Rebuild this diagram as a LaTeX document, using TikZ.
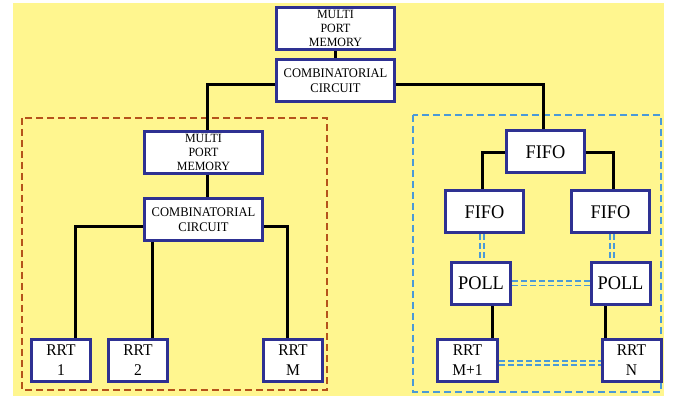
\documentclass[tikz,border=0pt]{standalone}
\usepackage{fontspec}
\setmainfont{Liberation Serif}[FakeStretch=0.95]
\definecolor{bgyel}{RGB}{255,246,143}
\definecolor{navy}{RGB}{46,49,146}
\definecolor{brownd}{RGB}{181,83,27}
\definecolor{blued}{RGB}{74,154,216}
\pgfdeclarelayer{bg}
\pgfsetlayers{bg,main}
\begin{document}
\begin{tikzpicture}[x=1pt,y=-1pt,
  box/.style={draw=navy,line width=3pt,fill=white,align=center,inner sep=1pt},
  bigbox/.style={box,minimum width=118pt,minimum height=42pt},
  smallbox/.style={box,minimum width=59pt,minimum height=42pt},
  fifobox/.style={box,minimum width=78pt,minimum height=42pt},
  memtext/.style={font=\fontsize{12.6}{14}\selectfont},
  combtext/.style={font=\fontsize{13.2}{15}\selectfont},
  rrttext/.style={font=\fontsize{16.4}{20}\selectfont},
  bigtext/.style={font=\fontsize{19.3}{22}\selectfont},
  wire/.style={line width=3pt,black},
  link/.style={draw=blued,line width=1.8pt,double=bgyel,double distance=2.4pt,dash pattern=on 6pt off 3pt},
  brownframe/.style={draw=brownd,line width=2pt,dash pattern=on 7pt off 4pt},
  blueframe/.style={draw=blued,line width=2pt,dash pattern=on 7pt off 4pt}]
\useasboundingbox (0,0) rectangle (673,398);
% nodes
\node[bigbox,memtext] (mpm1) at (335.5,28.5) {MULTI\\PORT\\MEMORY};
\node[bigbox,combtext] (comb1) at (335.5,80.5) {COMBINATORIAL\\CIRCUIT};
\node[bigbox,memtext] (mpm2) at (203.5,152.5) {MULTI\\PORT\\MEMORY};
\node[bigbox,combtext] (comb2) at (203.5,219.5) {COMBINATORIAL\\CIRCUIT};
\node[smallbox,rrttext] (rrt1) at (61,360.5) {RRT\\1};
\node[smallbox,rrttext] (rrt2) at (138,360.5) {RRT\\2};
\node[smallbox,rrttext] (rrtm) at (293,360.5) {RRT\\M};
\node[fifobox,bigtext] (fifo0) at (545.5,152) {FIFO};
\node[fifobox,bigtext] (fifol) at (484.5,212) {FIFO};
\node[fifobox,bigtext] (fifor) at (610.5,212) {FIFO};
\node[smallbox,bigtext] (polll) at (481,283.5) {POLL};
\node[smallbox,bigtext] (pollr) at (620.5,283.5) {POLL};
\node[smallbox,rrttext,minimum width=60pt] (rrtm1) at (467.5,360.5) {RRT\\M+1};
\node[smallbox,rrttext] (rrtn) at (631.5,360.5) {RRT\\N};
% helper coordinates
\coordinate (j1) at (207,85);
\coordinate (j2) at (543,85);
\coordinate (j3) at (75,227);
\coordinate (j4) at (287,227);
\coordinate (j5) at (152,0);
\coordinate (j6) at (482,153);
\coordinate (j7) at (613,153);
\coordinate (j8) at (492,0);
\coordinate (j9) at (605,0);
\coordinate (k1) at (482,0);
\coordinate (k2) at (612,0);
\coordinate (k3) at (0,363);
\begin{pgfonlayer}{bg}
\fill[bgyel] (13,3) rectangle (664,396);
\draw[brownframe] (22,118) rectangle (327,390);
\draw[blueframe] (413,115) rectangle (661,392);
% black wires
\draw[wire] (comb1.west |- j1) -| (mpm2.north -| j1);
\draw[wire] (comb1.east |- j2) -| (fifo0.north -| j2);
\draw[wire] (mpm2.south -| j1) -- (comb2.north -| j1);
\draw[wire] (mpm1.south) -- (comb1.north);
\draw[wire] (comb2.west |- j3) -| (rrt1.north -| j3);
\draw[wire] (comb2.east |- j4) -| (rrtm.north -| j4);
\draw[wire] (comb2.south -| j5) -- (rrt2.north -| j5);
\draw[wire] (fifo0.west |- j6) -| (fifol.north -| j6);
\draw[wire] (fifo0.east |- j7) -| (fifor.north -| j7);
\draw[wire] (polll.south -| j8) -- (rrtm1.north -| j8);
\draw[wire] (pollr.south -| j9) -- (rrtn.north -| j9);
% blue double dashed links
\draw[link] (fifol.south -| k1) -- (polll.north -| k1);
\draw[link] (fifor.south -| k2) -- (pollr.north -| k2);
\draw[link] (polll.east) -- (pollr.west);
\draw[link] (rrtm1.east |- k3) -- (rrtn.west |- k3);
\end{pgfonlayer}
\end{tikzpicture}
\end{document}
